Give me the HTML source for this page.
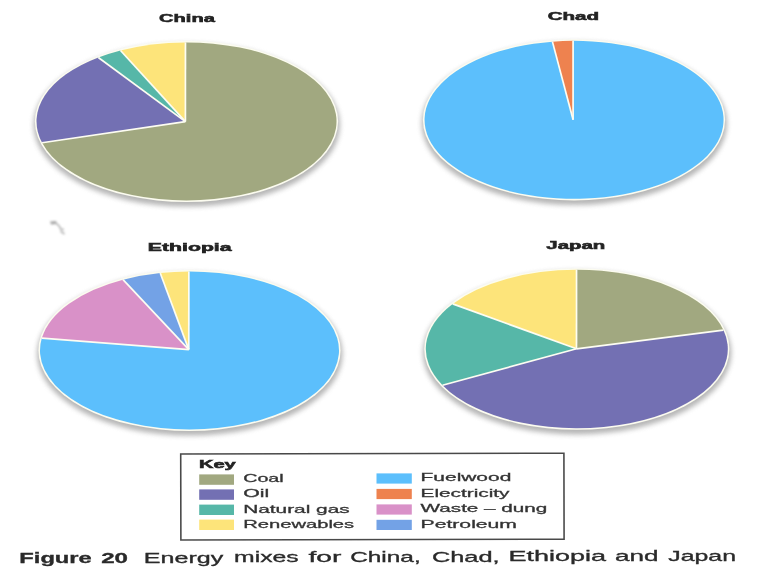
<!DOCTYPE html>
<html><head><meta charset="utf-8"><title>Figure 20</title>
<style>html,body{margin:0;padding:0;background:#fff;}svg{display:block;}</style>
</head><body>
<svg width="775" height="574" viewBox="0 0 775 574">
<defs><filter id="b" x="-20%" y="-20%" width="140%" height="140%"><feGaussianBlur stdDeviation="2.6"/></filter><filter id="b1" x="-50%" y="-50%" width="200%" height="200%"><feGaussianBlur stdDeviation="1.2"/></filter><filter id="soft"><feGaussianBlur stdDeviation="0.45"/></filter></defs>
<rect width="775" height="574" fill="#ffffff"/>
<ellipse cx="186.8" cy="125.0" rx="153.2" ry="81.6" fill="#909090" opacity="0.66" filter="url(#b)"/>
<ellipse cx="574.3" cy="123.39999999999999" rx="152.7" ry="81.6" fill="#909090" opacity="0.66" filter="url(#b)"/>
<ellipse cx="189.8" cy="354.0" rx="152.7" ry="81.6" fill="#909090" opacity="0.66" filter="url(#b)"/>
<ellipse cx="577.0999999999999" cy="352.6" rx="154.2" ry="81.8" fill="#909090" opacity="0.66" filter="url(#b)"/>
<g filter="url(#soft)">
<ellipse cx="186.5" cy="121.4" rx="151.6" ry="80.6" fill="#fcfcf0"/>
<path d="M185.40,121.60 L185.45,42.40 A150,79 0 1 1 42.10,142.78 Z" fill="#a1a880"/>
<path d="M185.40,121.60 L42.10,142.78 A150,79 0 0 1 98.33,57.49 Z" fill="#7370b3"/>
<path d="M185.40,121.60 L98.33,57.49 A150,79 0 0 1 120.51,50.46 Z" fill="#57b7a8"/>
<path d="M185.40,121.60 L120.51,50.46 A150,79 0 0 1 185.45,42.40 Z" fill="#fde47a"/>
<line x1="185.40" y1="121.60" x2="185.45" y2="42.40" stroke="#fdfdf2" stroke-width="1.7"/>
<line x1="185.40" y1="121.60" x2="42.10" y2="142.78" stroke="#fdfdf2" stroke-width="1.7"/>
<line x1="185.40" y1="121.60" x2="98.33" y2="57.49" stroke="#fdfdf2" stroke-width="1.7"/>
<line x1="185.40" y1="121.60" x2="120.51" y2="50.46" stroke="#fdfdf2" stroke-width="1.7"/>
</g>
<g filter="url(#soft)">
<ellipse cx="574" cy="119.8" rx="151.1" ry="80.6" fill="#fcfcf0"/>
<path d="M573.10,119.80 L573.09,40.80 A149.5,79 0 1 1 552.42,41.63 Z" fill="#5cbffc"/>
<path d="M573.10,119.80 L552.42,41.63 A149.5,79 0 0 1 573.09,40.80 Z" fill="#ee8250"/>
<line x1="573.10" y1="119.80" x2="573.09" y2="40.80" stroke="#fdfdf2" stroke-width="1.7"/>
<line x1="573.10" y1="119.80" x2="552.42" y2="41.63" stroke="#fdfdf2" stroke-width="1.7"/>
</g>
<g filter="url(#soft)">
<ellipse cx="189.5" cy="350.4" rx="151.1" ry="80.6" fill="#fcfcf0"/>
<path d="M188.80,349.60 L188.85,271.40 A149.5,79.0 0 1 1 41.84,338.04 Z" fill="#5cbffc"/>
<path d="M188.80,349.60 L41.84,338.04 A149.5,79.0 0 0 1 123.03,279.64 Z" fill="#d991c8"/>
<path d="M188.80,349.60 L123.03,279.64 A149.5,79.0 0 0 1 160.21,272.93 Z" fill="#73a2e6"/>
<path d="M188.80,349.60 L160.21,272.93 A149.5,79.0 0 0 1 188.85,271.40 Z" fill="#fde47a"/>
<line x1="188.80" y1="349.60" x2="188.85" y2="271.40" stroke="#fdfdf2" stroke-width="1.7"/>
<line x1="188.80" y1="349.60" x2="41.84" y2="338.04" stroke="#fdfdf2" stroke-width="1.7"/>
<line x1="188.80" y1="349.60" x2="123.03" y2="279.64" stroke="#fdfdf2" stroke-width="1.7"/>
<line x1="188.80" y1="349.60" x2="160.21" y2="272.93" stroke="#fdfdf2" stroke-width="1.7"/>
</g>
<g filter="url(#soft)">
<ellipse cx="576.8" cy="349" rx="152.6" ry="80.8" fill="#fcfcf0"/>
<path d="M576.50,348.80 L576.54,269.80 A151.0,79.2 0 0 1 723.44,330.11 Z" fill="#a1a880"/>
<path d="M576.50,348.80 L723.44,330.11 A151.0,79.2 0 0 1 442.50,385.20 Z" fill="#7370b3"/>
<path d="M576.50,348.80 L442.50,385.20 A151.0,79.2 0 0 1 452.66,303.91 Z" fill="#57b7a8"/>
<path d="M576.50,348.80 L452.66,303.91 A151.0,79.2 0 0 1 576.54,269.80 Z" fill="#fde47a"/>
<line x1="576.50" y1="348.80" x2="576.54" y2="269.80" stroke="#fdfdf2" stroke-width="1.7"/>
<line x1="576.50" y1="348.80" x2="723.44" y2="330.11" stroke="#fdfdf2" stroke-width="1.7"/>
<line x1="576.50" y1="348.80" x2="442.50" y2="385.20" stroke="#fdfdf2" stroke-width="1.7"/>
<line x1="576.50" y1="348.80" x2="452.66" y2="303.91" stroke="#fdfdf2" stroke-width="1.7"/>
</g>
<g filter="url(#b1)"><path d="M50,221.5 L56,221 L57,224 L51,224.5 Z" fill="#a8a8a8"/><path d="M56,223 L59.5,226.5 L61,230 M60,229 L64,229.5 M60.5,231 L64.5,234" fill="none" stroke="#b4b4b4" stroke-width="1.6"/></g>
<g filter="url(#soft)">
<text x="159.1" y="21.6" font-family="Liberation Sans, sans-serif" font-size="10.3" font-weight="bold" fill="#222" stroke="#222" stroke-width="0.5" textLength="55.7" lengthAdjust="spacingAndGlyphs">China</text>
<text x="547.7" y="20.3" font-family="Liberation Sans, sans-serif" font-size="10.3" font-weight="bold" fill="#222" stroke="#222" stroke-width="0.5" textLength="51.4" lengthAdjust="spacingAndGlyphs">Chad</text>
<text x="147.8" y="250.6" font-family="Liberation Sans, sans-serif" font-size="10.3" font-weight="bold" fill="#222" stroke="#222" stroke-width="0.5" textLength="83.8" lengthAdjust="spacingAndGlyphs">Ethiopia</text>
<text x="546.3" y="249.1" font-family="Liberation Sans, sans-serif" font-size="10.3" font-weight="bold" fill="#222" stroke="#222" stroke-width="0.5" textLength="58.9" lengthAdjust="spacingAndGlyphs">Japan</text>
<rect x="180.8" y="453.6" width="383.2" height="86" fill="#ffffff" stroke="#4a4a4a" stroke-width="1.6" transform="rotate(-0.12 372 497)"/>
<text x="198.9" y="467.5" font-family="Liberation Sans, sans-serif" font-size="10.6" font-weight="bold" fill="#222" stroke="#222" stroke-width="0.5" textLength="36.9" lengthAdjust="spacingAndGlyphs">Key</text>
<rect x="199.2" y="474.4" width="34.8" height="10.4" fill="#a1a880"/>
<rect x="199.2" y="489.4" width="34.8" height="10.4" fill="#7370b3"/>
<rect x="199.2" y="504.6" width="34.8" height="10.4" fill="#57b7a8"/>
<rect x="199.2" y="519.6" width="34.8" height="10.4" fill="#fde47a"/>
<rect x="376.5" y="473.4" width="35.3" height="10.2" fill="#5cbffc"/>
<rect x="376.5" y="488.9" width="35.3" height="10.2" fill="#ee8250"/>
<rect x="376.5" y="504.4" width="35.3" height="10.2" fill="#d991c8"/>
<rect x="376.5" y="519.8" width="35.3" height="10.2" fill="#73a2e6"/>
<text x="243.2" y="482.4" font-family="Liberation Sans, sans-serif" font-size="11.5" fill="#333" stroke="#333" stroke-width="0.3" textLength="40.5" lengthAdjust="spacingAndGlyphs">Coal</text>
<text x="243.2" y="497.4" font-family="Liberation Sans, sans-serif" font-size="11.5" fill="#333" stroke="#333" stroke-width="0.3" textLength="26" lengthAdjust="spacingAndGlyphs">Oil</text>
<text x="243.2" y="512.6" font-family="Liberation Sans, sans-serif" font-size="11.5" fill="#333" stroke="#333" stroke-width="0.3" textLength="106.5" lengthAdjust="spacingAndGlyphs">Natural gas</text>
<text x="243.2" y="528.1" font-family="Liberation Sans, sans-serif" font-size="11.5" fill="#333" stroke="#333" stroke-width="0.3" textLength="111" lengthAdjust="spacingAndGlyphs">Renewables</text>
<text x="420.6" y="481.3" font-family="Liberation Sans, sans-serif" font-size="11.5" fill="#333" stroke="#333" stroke-width="0.3" textLength="90.7" lengthAdjust="spacingAndGlyphs">Fuelwood</text>
<text x="420.6" y="496.6" font-family="Liberation Sans, sans-serif" font-size="11.5" fill="#333" stroke="#333" stroke-width="0.3" textLength="88.9" lengthAdjust="spacingAndGlyphs">Electricity</text>
<text x="420.6" y="512.1" font-family="Liberation Sans, sans-serif" font-size="11.5" fill="#333" stroke="#333" stroke-width="0.3" textLength="126.7" lengthAdjust="spacingAndGlyphs">Waste – dung</text>
<text x="420.6" y="527.9" font-family="Liberation Sans, sans-serif" font-size="11.5" fill="#333" stroke="#333" stroke-width="0.3" textLength="96.4" lengthAdjust="spacingAndGlyphs">Petroleum</text>
<text x="19.3" y="563.1" font-family="Liberation Sans, sans-serif" font-size="13.9" font-weight="bold" fill="#2a2a2a" stroke="#2a2a2a" stroke-width="0.3" textLength="72.5" lengthAdjust="spacingAndGlyphs">Figure</text>
<text x="101.2" y="562.86" font-family="Liberation Sans, sans-serif" font-size="13.9" font-weight="bold" fill="#2a2a2a" stroke="#2a2a2a" stroke-width="0.3" textLength="26.8" lengthAdjust="spacingAndGlyphs">20</text>
<text x="143.79999999999998" y="562.61" font-family="Liberation Sans, sans-serif" font-size="13.9" fill="#2a2a2a" stroke="#2a2a2a" stroke-width="0.3" textLength="79.4" lengthAdjust="spacingAndGlyphs">Energy</text>
<text x="234.1" y="562.36" font-family="Liberation Sans, sans-serif" font-size="13.9" fill="#2a2a2a" stroke="#2a2a2a" stroke-width="0.3" textLength="64.6" lengthAdjust="spacingAndGlyphs">mixes</text>
<text x="308.4" y="562.18" font-family="Liberation Sans, sans-serif" font-size="13.9" fill="#2a2a2a" stroke="#2a2a2a" stroke-width="0.3" textLength="32.9" lengthAdjust="spacingAndGlyphs">for</text>
<text x="350.2" y="562.0" font-family="Liberation Sans, sans-serif" font-size="13.9" fill="#2a2a2a" stroke="#2a2a2a" stroke-width="0.3" textLength="70.5" lengthAdjust="spacingAndGlyphs">China,</text>
<text x="432.0" y="561.76" font-family="Liberation Sans, sans-serif" font-size="13.9" fill="#2a2a2a" stroke="#2a2a2a" stroke-width="0.3" textLength="67.6" lengthAdjust="spacingAndGlyphs">Chad,</text>
<text x="508.59999999999997" y="561.49" font-family="Liberation Sans, sans-serif" font-size="13.9" fill="#2a2a2a" stroke="#2a2a2a" stroke-width="0.3" textLength="97.5" lengthAdjust="spacingAndGlyphs">Ethiopia</text>
<text x="615.1" y="561.25" font-family="Liberation Sans, sans-serif" font-size="13.9" fill="#2a2a2a" stroke="#2a2a2a" stroke-width="0.3" textLength="43.4" lengthAdjust="spacingAndGlyphs">and</text>
<text x="668.3000000000001" y="561.05" font-family="Liberation Sans, sans-serif" font-size="13.9" fill="#2a2a2a" stroke="#2a2a2a" stroke-width="0.3" textLength="67.7" lengthAdjust="spacingAndGlyphs">Japan</text>
</g>
</svg>
</body></html>
